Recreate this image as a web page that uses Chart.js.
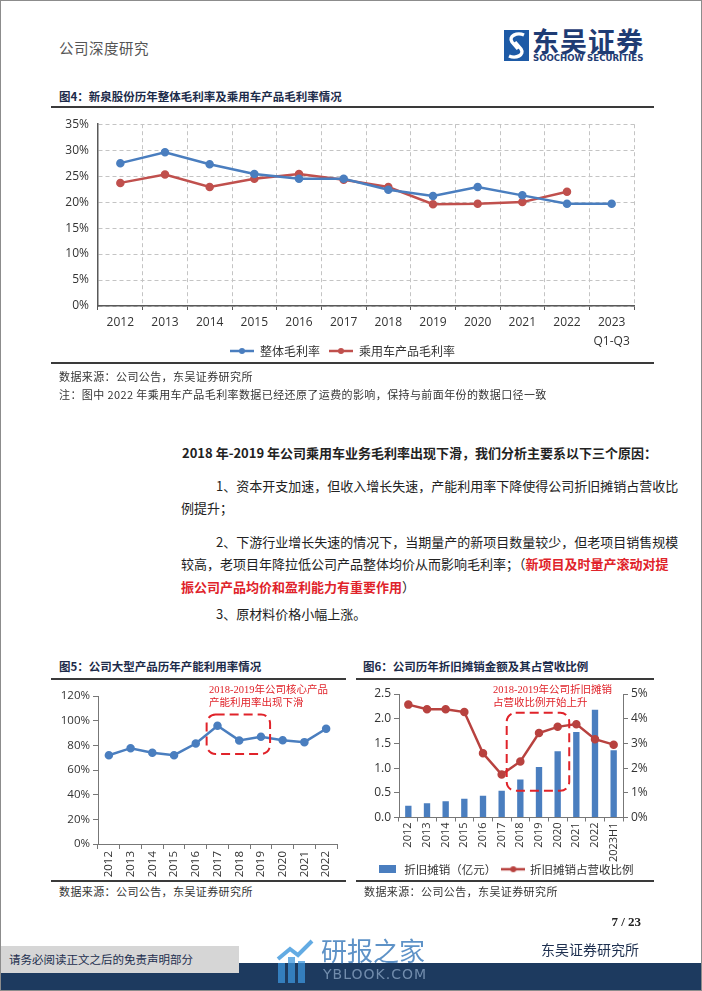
<!DOCTYPE html>
<html>
<head>
<meta charset="utf-8">
<script src="https://cdn.jsdelivr.net/npm/chart.js@4.4.0/dist/chart.umd.min.js"></script>
<style>
  body { margin: 0; background: #fff; }
  .page { position: relative; width: 700px; height: 989px; border: 1px solid #8c8c8c; overflow: hidden;
          font-family: "Noto Sans CJK SC", "Noto Sans", sans-serif; color: #222; }
  .abs { position: absolute; white-space: nowrap; }
  .figtitle { font-size: 11.5px; font-weight: bold; color: #1c2b4a; line-height: 16px; }
  .rule { position: absolute; background: #3a3a3a; }
  .src { font-size: 11px; color: #333; line-height: 16px; letter-spacing: 0.4px; }
  .body { font-size: 13px; line-height: 20px; color: #222; text-align: justify; text-align-last: justify; }
  .red { color: #e0232a; font-weight: bold; }
  .note { font-family: "Liberation Serif", "Noto Sans CJK SC", serif; font-size: 10.5px; color: #e0232a; line-height: 13px; }
  canvas { position: absolute; }
</style>
</head>
<body>
<div class="page">
  <!-- header -->
  <div class="abs" style="left:58px;top:37px;font-size:14.5px;color:#555;line-height:20px;letter-spacing:0.5px;">公司深度研究</div>
  <svg class="abs" style="left:503px;top:29px" width="25" height="31" viewBox="0 0 25 31">
    <rect width="25" height="31" fill="#1d5aa6"/>
    <path d="M20 5 C13 2 4 6 8 12 L14 19" stroke="#fff" stroke-width="3.4" fill="none"/>
    <path d="M5 26 C12 29 21 25 17 19 L11 12" stroke="#fff" stroke-width="3.4" fill="none"/>
  </svg>
  <div class="abs" style="left:531px;top:25px;font-size:27px;font-weight:bold;color:#1f3c74;line-height:30px;letter-spacing:1px;">东吴证券</div>
  <div class="abs" style="left:532px;top:52px;font-size:8.6px;font-weight:bold;color:#1f3c74;line-height:10px;font-family:'DejaVu Sans',sans-serif;">SOOCHOW SECURITIES</div>

  <!-- figure 4 -->
  <div class="abs figtitle" style="left:58px;top:87px;">图4：新泉股份历年整体毛利率及乘用车产品毛利率情况</div>
  <div class="rule" style="left:50px;top:105px;width:603px;height:2px;"></div>
  <canvas id="c4" width="603" height="259" style="left:50px;top:107px;"></canvas>
  <div class="rule" style="left:50px;top:361px;width:603px;height:1.5px;"></div>
  <div class="abs src" style="left:58px;top:367px;">数据来源：公司公告，东吴证券研究所</div>
  <div class="abs src" style="left:58px;top:385px;">注：图中 2022 年乘用车产品毛利率数据已经还原了运费的影响，保持与前面年份的数据口径一致</div>

  <!-- body text -->
  <div class="abs body" style="left:181px;top:442px;width:469px;font-weight:bold;">2018 年-2019 年公司乘用车业务毛利率出现下滑，我们分析主要系以下三个原因：</div>
  <div class="abs body" style="left:215px;top:475px;width:435px;">1、资本开支加速，但收入增长失速，产能利用率下降使得公司折旧摊销占营收比</div>
  <div class="abs" style="left:180px;top:497px;font-size:13px;line-height:20px;">例提升；</div>
  <div class="abs body" style="left:215px;top:531px;width:435px;">2、下游行业增长失速的情况下，当期量产的新项目数量较少，但老项目销售规模</div>
  <div class="abs body" style="left:180px;top:553px;width:470px;">较高，老项目年降拉低公司产品整体均价从而影响毛利率；（<span class="red">新项目及时量产滚动对提</span></div>
  <div class="abs" style="left:180px;top:576px;font-size:13px;line-height:20px;"><span class="red">振公司产品均价和盈利能力有重要作用</span>）</div>
  <div class="abs" style="left:215px;top:603px;font-size:13px;line-height:20px;">3、原材料价格小幅上涨。</div>

  <!-- figure 5 -->
  <div class="abs figtitle" style="left:58px;top:657px;">图5：公司大型产品历年产能利用率情况</div>
  <div class="rule" style="left:50px;top:677px;width:295px;height:2px;"></div>
  <canvas id="c5" width="295" height="198" style="left:50px;top:680px;"></canvas>
  <div class="abs note" style="left:208px;top:682px;">2018-2019年公司核心产品<br>产能利用率出现下滑</div>
  <div class="rule" style="left:50px;top:879px;width:295px;height:1.5px;"></div>
  <div class="abs src" style="left:58px;top:882px;">数据来源：公司公告，东吴证券研究所</div>

  <!-- figure 6 -->
  <div class="abs figtitle" style="left:362px;top:657px;">图6：公司历年折旧摊销金额及其占营收比例</div>
  <div class="rule" style="left:355px;top:677px;width:298px;height:2px;"></div>
  <canvas id="c6" width="298" height="204" style="left:355px;top:680px;"></canvas>
  <div class="abs note" style="left:492px;top:682px;">2018-2019年公司折旧摊销<br>占营收比例开始上升</div>
  <div class="rule" style="left:355px;top:879px;width:298px;height:1.5px;"></div>
  <div class="abs src" style="left:363px;top:882px;">数据来源：公司公告，东吴证券研究所</div>

  <!-- footer -->
  <div class="abs" style="left:600px;top:912px;width:40px;text-align:right;font-family:'Liberation Serif',serif;font-weight:bold;font-size:13px;line-height:18px;">7 / 23</div>
  <div class="abs" style="left:0;top:962px;width:702px;height:29px;background:#1d3a5f;"></div>
  <div class="abs" style="left:0;top:945px;width:238px;height:27px;background:#d6d6d6;"></div>
  <div class="abs" style="left:8px;top:950px;font-size:11.5px;line-height:17px;color:#1d2f4f;">请务必阅读正文之后的免责声明部分</div>
  <div class="abs" style="left:540px;top:938px;font-size:14px;line-height:20px;color:#1d2f4f;">东吴证券研究所</div>
  <div class="abs" style="left:320px;top:934px;font-size:26px;line-height:30px;color:rgba(40,110,180,0.75);">研报之家</div>
  <div class="abs" style="left:322px;top:964px;font-size:14px;line-height:18px;color:rgba(150,175,205,0.7);letter-spacing:1px;font-family:'DejaVu Sans',sans-serif;">YBLOOK.COM</div>
  <svg class="abs" style="left:275px;top:938px" width="40" height="44" viewBox="0 0 40 44">
    <g fill="rgba(60,150,220,0.75)"><rect x="2" y="24" width="7" height="20"/><rect x="12" y="18" width="7" height="26"/><rect x="22" y="22" width="7" height="22"/></g>
    <path d="M2 20 L14 10 L22 16 L36 2" stroke="rgba(60,150,220,0.8)" stroke-width="4" fill="none"/>
  </svg>
</div>

<script>
// ---- data ----
const years4 = ['2012', '2013', '2014', '2015', '2016', '2017', '2018', '2019', '2020', '2021', '2022', ['2023', 'Q1-Q3']];
const grossMargin = [27.5, 29.6, 27.3, 25.4, 24.5, 24.5, 22.4, 21.2, 22.9, 21.3, 19.7, 19.7];
const carMargin = [23.7, 25.3, 22.9, 24.5, 25.4, 24.3, 22.9, 19.6, 19.7, 20.0, 22.0, null];

const years5 = ['2012', '2013', '2014', '2015', '2016', '2017', '2018', '2019', '2020', '2021', '2022'];
const utilization = [72, 77.7, 74, 72, 81.5, 95.9, 84, 87, 84.2, 82.6, 93.4];

const years6 = ['2012', '2013', '2014', '2015', '2016', '2017', '2018', '2019', '2020', '2021', '2022', '2023H1'];
const depreciation = [0.24, 0.29, 0.33, 0.38, 0.44, 0.54, 0.77, 1.02, 1.34, 1.73, 2.18, 1.36];
const deprRatio = [4.57, 4.38, 4.38, 4.27, 2.60, 1.74, 2.27, 3.42, 3.67, 3.78, 3.17, 2.95];

const BLUE = '#4a7ebf';
const RED = '#c0504d';
const RED6 = '#b8423f';
const AXIS = '#595959';

Chart.defaults.font.family = '"Open Sans", "Noto Sans CJK SC", sans-serif';
Chart.defaults.color = '#333';

// small images used as legend markers
function lineMarker(color) {
    const c = document.createElement('canvas');
    c.width = 24; c.height = 8;
    const g = c.getContext('2d');
    g.strokeStyle = color; g.lineWidth = 2.5;
    g.beginPath(); g.moveTo(0, 4); g.lineTo(24, 4); g.stroke();
    g.fillStyle = color;
    g.beginPath(); g.arc(12, 4, 3, 0, Math.PI * 2); g.fill();
    return c;
}
function boxMarker(color) {
    const c = document.createElement('canvas');
    c.width = 17; c.height = 8;
    const g = c.getContext('2d');
    g.fillStyle = color; g.fillRect(0, 0, 17, 8);
    return c;
}

// let x tick labels spill below the axis box (it is kept short so the legend sits close)
const noLabelClip = {
    id: 'noLabelClip',
    afterLayout(chart) {
        chart.scales.x._computeLabelArea = () => undefined;
    }
};

// dashed red rounded box drawn on the scales
const dashBox = {
    id: 'dashBox',
    afterDatasetsDraw(chart, args, opts) {
        if (!opts.box) return;
        const { ctx, scales } = chart;
        const b = opts.box;
        const x1 = scales.x.getPixelForValue(b.x1);
        const x2 = scales.x.getPixelForValue(b.x2);
        const y1 = scales.y.getPixelForValue(b.y1);
        const y2 = scales.y.getPixelForValue(b.y2);
        ctx.save();
        ctx.strokeStyle = '#e0232a';
        ctx.lineWidth = 2;
        ctx.setLineDash([9, 5]);
        ctx.beginPath();
        ctx.roundRect(x1, y1, x2 - x1, y2 - y1, 9);
        ctx.stroke();
        ctx.restore();
    }
};

const ticksFont = { size: 12 };

// ---- figure 4 ----
new Chart(document.getElementById('c4'), {
    type: 'line',
    data: {
        labels: years4,
        datasets: [
            { label: '整体毛利率', data: grossMargin, borderColor: BLUE, backgroundColor: BLUE,
              borderWidth: 2.5, pointRadius: 3, pointHoverRadius: 3 },
            { label: '乘用车产品毛利率', data: carMargin, borderColor: RED, backgroundColor: RED,
              borderWidth: 2.5, pointRadius: 3, pointHoverRadius: 3 }
        ]
    },
    plugins: [noLabelClip],
    options: {
        responsive: false,
        animation: false,
        devicePixelRatio: 1,
        layout: { padding: { top: 15, right: 20, left: 0, bottom: 0 } },
        plugins: {
            tooltip: { enabled: false },
            legend: {
                position: 'bottom',
                labels: {
                    usePointStyle: true,
                    pointStyleWidth: 24,
                    padding: 9,
                    font: { size: 12, family: '"Noto Sans CJK SC", sans-serif' },
                    generateLabels(chart) {
                        const items = Chart.defaults.plugins.legend.labels.generateLabels(chart);
                        items[0].pointStyle = lineMarker(BLUE);
                        items[1].pointStyle = lineMarker(RED);
                        return items;
                    }
                }
            }
        },
        scales: {
            x: {
                offset: true,
                grid: { offset: true, color: '#c4c4c4', tickLength: 4, tickColor: AXIS, tickBorderDash: [] },
                border: { color: AXIS, width: 1.5, dash: [4, 3] },
                ticks: { font: { size: 12, lineHeight: 1.6 }, padding: 3, maxRotation: 0, autoSkip: false },
                afterFit(s) { s.height = 30; }
            },
            y: {
                min: 0, max: 35,
                grid: { drawTicks: false, color: '#c4c4c4' },
                border: { color: AXIS, width: 1.5, dash: [4, 3] },
                ticks: { stepSize: 5, font: ticksFont, padding: 9, callback: v => v + '%' },
                afterFit(s) { s.width = 47; }
            }
        }
    }
});

// ---- figure 5 ----
new Chart(document.getElementById('c5'), {
    type: 'line',
    data: {
        labels: years5,
        datasets: [
            { label: '产能利用率', data: utilization, borderColor: BLUE, backgroundColor: BLUE,
              borderWidth: 2.5, pointRadius: 3, pointHoverRadius: 3 }
        ]
    },
    plugins: [dashBox],
    options: {
        responsive: false,
        animation: false,
        devicePixelRatio: 1,
        layout: { padding: { top: 15, right: 9, left: 0, bottom: 0 } },
        plugins: {
            tooltip: { enabled: false },
            legend: { display: false },
            dashBox: { box: { x1: 4.5, x2: 7.42, y1: 105, y2: 73 } }
        },
        scales: {
            x: {
                offset: true,
                grid: { offset: true, drawOnChartArea: false, tickLength: 5, tickColor: '#777' },
                border: { color: '#777', width: 1 },
                ticks: { font: { size: 11.5 }, padding: 2, minRotation: 90, maxRotation: 90, autoSkip: false },
                afterFit(s) { s.height = 35; }
            },
            y: {
                min: 0, max: 120,
                grid: { drawOnChartArea: false, tickLength: 5, tickColor: '#777' },
                border: { color: '#777', width: 1 },
                ticks: { stepSize: 20, font: { size: 11.5 }, padding: 3, callback: v => v + '%' },
                afterFit(s) { s.width = 47; }
            }
        }
    }
});

// ---- figure 6 ----
new Chart(document.getElementById('c6'), {
    type: 'bar',
    data: {
        labels: years6,
        datasets: [
            { type: 'line', label: '折旧摊销占营收比例', data: deprRatio, yAxisID: 'y1', order: 0,
              borderColor: RED6, backgroundColor: RED6, borderWidth: 2.5, pointRadius: 3, pointHoverRadius: 3 },
            { type: 'bar', label: '折旧摊销（亿元）', data: depreciation, yAxisID: 'y', order: 1,
              backgroundColor: BLUE, barPercentage: 0.34, categoryPercentage: 1 }
        ]
    },
    plugins: [dashBox, noLabelClip],
    options: {
        responsive: false,
        animation: false,
        devicePixelRatio: 1,
        layout: { padding: { top: 13, right: 0, left: 0, bottom: 0 } },
        plugins: {
            tooltip: { enabled: false },
            dashBox: { box: { x1: 5.27, x2: 8.62, y1: 2.12, y2: 0.54 } },
            legend: {
                position: 'bottom',
                labels: {
                    usePointStyle: true,
                    pointStyleWidth: 22,
                    padding: 6,
                    font: { size: 11.5, family: '"Noto Sans CJK SC", sans-serif' },
                    sort: (a, b) => b.datasetIndex - a.datasetIndex,
                    generateLabels(chart) {
                        const items = Chart.defaults.plugins.legend.labels.generateLabels(chart);
                        items.forEach(it => {
                            it.pointStyle = it.datasetIndex === 1 ? boxMarker(BLUE) : lineMarker(RED6);
                        });
                        return items;
                    }
                }
            }
        },
        scales: {
            x: {
                offset: true,
                grid: { offset: true, drawOnChartArea: false, tickLength: 4, tickColor: '#777' },
                border: { color: '#777', width: 1 },
                ticks: { font: { size: 11 }, padding: 1, minRotation: 90, maxRotation: 90, autoSkip: false },
                afterFit(s) { s.height = 40; }
            },
            y: {
                position: 'left',
                min: 0, max: 2.5,
                grid: { drawOnChartArea: false, tickLength: 5, tickColor: '#777' },
                border: { color: '#777', width: 1 },
                ticks: { stepSize: 0.5, font: ticksFont, padding: 3, callback: v => v.toFixed(1) },
                afterFit(s) { s.width = 43; }
            },
            y1: {
                position: 'right',
                min: 0, max: 5,
                grid: { drawOnChartArea: false, tickLength: 5, tickColor: '#777' },
                border: { color: '#777', width: 1 },
                ticks: { stepSize: 1, font: ticksFont, padding: 3, callback: v => v + '%' },
                afterFit(s) { s.width = 31; }
            }
        }
    }
});
</script>
</body>
</html>
